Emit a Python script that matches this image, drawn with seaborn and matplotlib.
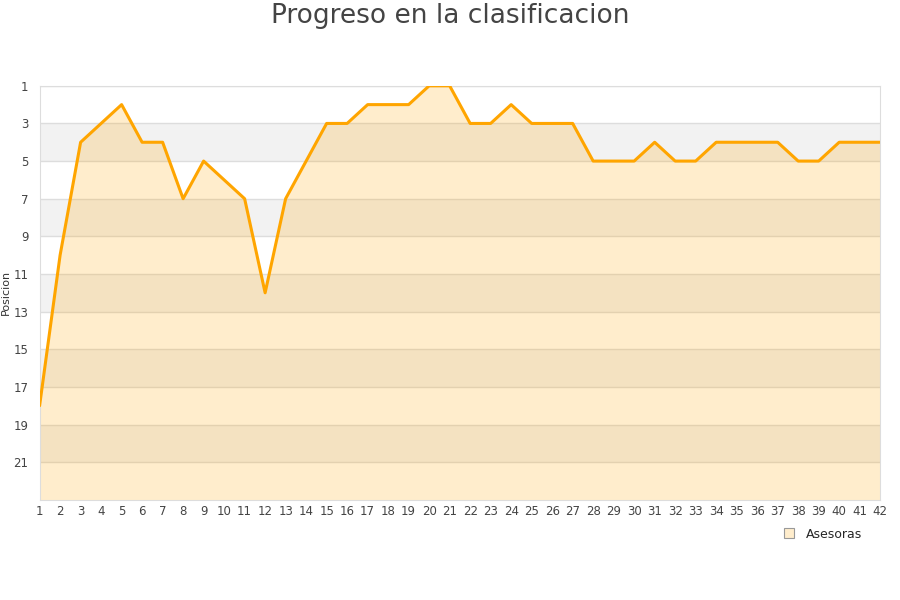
import numpy as np
import pandas as pd
import matplotlib.pyplot as plt
import seaborn as sns

sns.set_style("white")
plt.rcParams['font.family'] = ['DejaVu Sans']

jornadas = list(range(1, 43))
posicion = [18, 10, 4, 3, 2, 4, 4, 7, 5, 6,
            7, 12, 7, 5, 3, 3, 2, 2, 2, 1,
            1, 3, 3, 2, 3, 3, 3, 5, 5, 5,
            4, 5, 5, 4, 4, 4, 4, 5, 5, 4,
            4, 4]
equipo = "Asesoras"

df = pd.DataFrame({'jornada': jornadas, 'posicion': posicion})

fig, ax = plt.subplots(figsize=(9, 6), dpi=100)
fig.subplots_adjust(left=0.044, right=0.978, top=0.857, bottom=0.167)

# alternating background bands
for lo in range(3, 22, 4):
    ax.axhspan(lo, lo + 2, color='#f2f2f2', zorder=0, lw=0)
for t in range(1, 23, 2):
    ax.axhline(t, color='#dddddd', lw=1, zorder=1)

ax.fill_between(df['jornada'], df['posicion'], 23, color='#ffa500', alpha=0.2, lw=0, zorder=2)
sns.lineplot(data=df, x='jornada', y='posicion', color='#ffa500', lw=2.2, ax=ax, zorder=3)

ax.set_xlim(1, 42)
ax.set_ylim(23, 1)
ax.set_xticks(jornadas)
ax.set_yticks(range(1, 23, 2))
ax.tick_params(axis='both', labelsize=8.5, colors='#444444', length=0)
ax.tick_params(axis='y', pad=8)
ax.set_xlabel('')
ax.set_ylabel('Posicion', fontsize=8, color='#333333', labelpad=2)
for s in ax.spines.values():
    s.set_color('#dddddd')

fig.suptitle('Progreso en la clasificacion', fontsize=19, color='#444444', y=0.995, va='top')

handle = plt.Line2D([], [], marker='s', ls='', markersize=7,
                    markerfacecolor='#ffedcc', markeredgecolor='#999999', markeredgewidth=0.8)
fig.legend([handle], [equipo], loc='lower right', bbox_to_anchor=(0.97, 0.08),
           frameon=False, fontsize=9, handletextpad=0.3)

plt.savefig('out.png')
